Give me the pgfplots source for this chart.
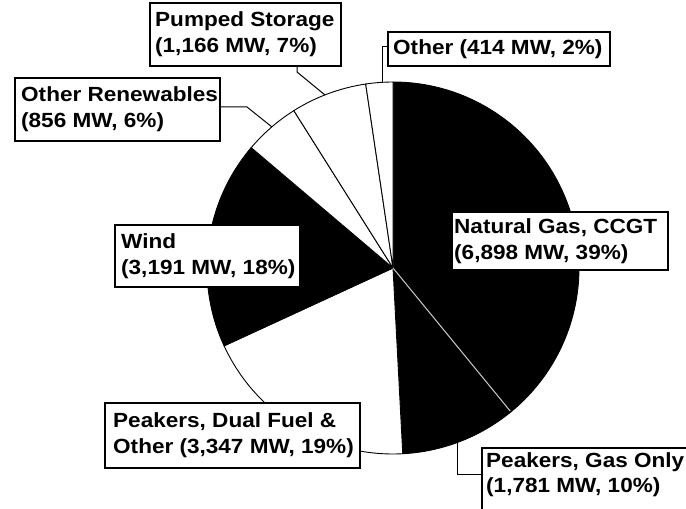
\documentclass[border=0pt]{standalone}
\usepackage{pgfplots}
\pgfplotsset{compat=1.18}
\usepackage{pgfplotstable}
\usepackage{fontspec}
\setmainfont{Liberation Sans}[FakeStretch=1.1]

\pgfplotstableread{
label value
CCGT 6898
GasOnly 1781
DualFuel 3347
Wind 3191
OtherRen 856
Pumped 1166
Other 414
}\piedata

\newcommand\pieslice[3]{%
  \filldraw[fill=#3, draw=black, line width=0.9pt] (axis cs:393,241) -- ++(#1:186pt)
    arc[start angle=#1, end angle=#2, radius=186pt] -- cycle;}

\tikzset{labtext/.style={anchor=west, inner sep=0pt, align=left,
  font=\bfseries\fontsize{20.5}{26}\selectfont}}
% box in pixel coordinates (left, top, right, bottom), text inset
\newcommand\labbox[6]{%
  \filldraw[fill=white, draw=black, line width=1.1pt] (axis cs:#1,509-#2) rectangle (axis cs:#3,509-#4);
  \node[labtext] at (axis cs:#1+#5,509-#2/2-#4/2) {#6};}

\begin{document}
\begin{tikzpicture}
\pgfplotstablegetelem{0}{value}\of\piedata \pgfmathsetmacro\vA{\pgfplotsretval/1000}
\pgfplotstablegetelem{1}{value}\of\piedata \pgfmathsetmacro\vB{\pgfplotsretval/1000}
\pgfplotstablegetelem{2}{value}\of\piedata \pgfmathsetmacro\vC{\pgfplotsretval/1000}
\pgfplotstablegetelem{3}{value}\of\piedata \pgfmathsetmacro\vD{\pgfplotsretval/1000}
\pgfplotstablegetelem{4}{value}\of\piedata \pgfmathsetmacro\vE{\pgfplotsretval/1000}
\pgfplotstablegetelem{5}{value}\of\piedata \pgfmathsetmacro\vF{\pgfplotsretval/1000}
\pgfplotstablegetelem{6}{value}\of\piedata \pgfmathsetmacro\vG{\pgfplotsretval/1000}
\pgfmathsetmacro\tot{\vA+\vB+\vC+\vD+\vE+\vF+\vG}
\pgfmathsetmacro\aA{90}
\pgfmathsetmacro\aB{\aA-360*\vA/\tot}
\pgfmathsetmacro\aC{\aB-360*\vB/\tot}
\pgfmathsetmacro\aD{\aC-360*\vC/\tot}
\pgfmathsetmacro\aE{\aD-360*\vD/\tot}
\pgfmathsetmacro\aF{\aE-360*\vE/\tot}
\pgfmathsetmacro\aG{\aF-360*\vF/\tot}
\pgfmathsetmacro\aH{\aG-360*\vG/\tot}
\begin{axis}[hide axis, scale only axis, width=686pt, height=509pt,
  xmin=0, xmax=686, ymin=0, ymax=509, clip=false]
  \pieslice{\aA}{\aB}{black}
  \pieslice{\aB}{\aC}{black}
  \pieslice{\aC}{\aD}{white}
  \pieslice{\aD}{\aE}{black}
  \pieslice{\aE}{\aF}{white}
  \pieslice{\aF}{\aG}{white}
  \pieslice{\aG}{\aH}{white}
  % white separator between the two black gas slices
  \draw[white!80!black, line width=1pt] (axis cs:393,241) -- ++(\aB:185pt);
  % leader lines
  \draw[line width=1pt] (axis cs:388,462) -- (axis cs:382,462) -- (axis cs:382,427);
  \draw[line width=1pt] (axis cs:297,443) -- (axis cs:297,437) -- (axis cs:325,414);
  \draw[line width=1pt] (axis cs:220,402) -- (axis cs:247,402) -- (axis cs:272,382);
  \draw[line width=1pt] (axis cs:482,34) -- (axis cs:457,34) -- (axis cs:457,66);
  % labels
  \labbox{150}{3}{341}{66}{5}{Pumped Storage\\(1,166 MW, 7\%)}
  \labbox{388}{32}{610}{66}{5}{Other (414 MW, 2\%)}
  \labbox{15}{78}{220}{141}{6}{Other Renewables\\(856 MW, 6\%)}
  \labbox{115}{225}{300}{287}{6}{Wind\\(3,191 MW, 18\%)}
  \labbox{452}{212}{668}{270}{2}{Natural Gas, CCGT\\(6,898 MW, 39\%)}
  \labbox{105}{403}{360}{468}{8}{Peakers, Dual Fuel \&\\Other (3,347 MW, 19\%)}
  \filldraw[fill=white, draw=black, line width=1.1pt] (axis cs:482,61) rectangle (axis cs:720,-20);
  \node[labtext, anchor=north west, font=\bfseries\fontsize{20.5}{25}\selectfont] at (axis cs:486,57) {Peakers, Gas Only\\(1,781 MW, 10\%)};
\end{axis}
\pgfresetboundingbox
\useasboundingbox (0,0) rectangle (686pt,509pt);
\end{tikzpicture}
\end{document}
